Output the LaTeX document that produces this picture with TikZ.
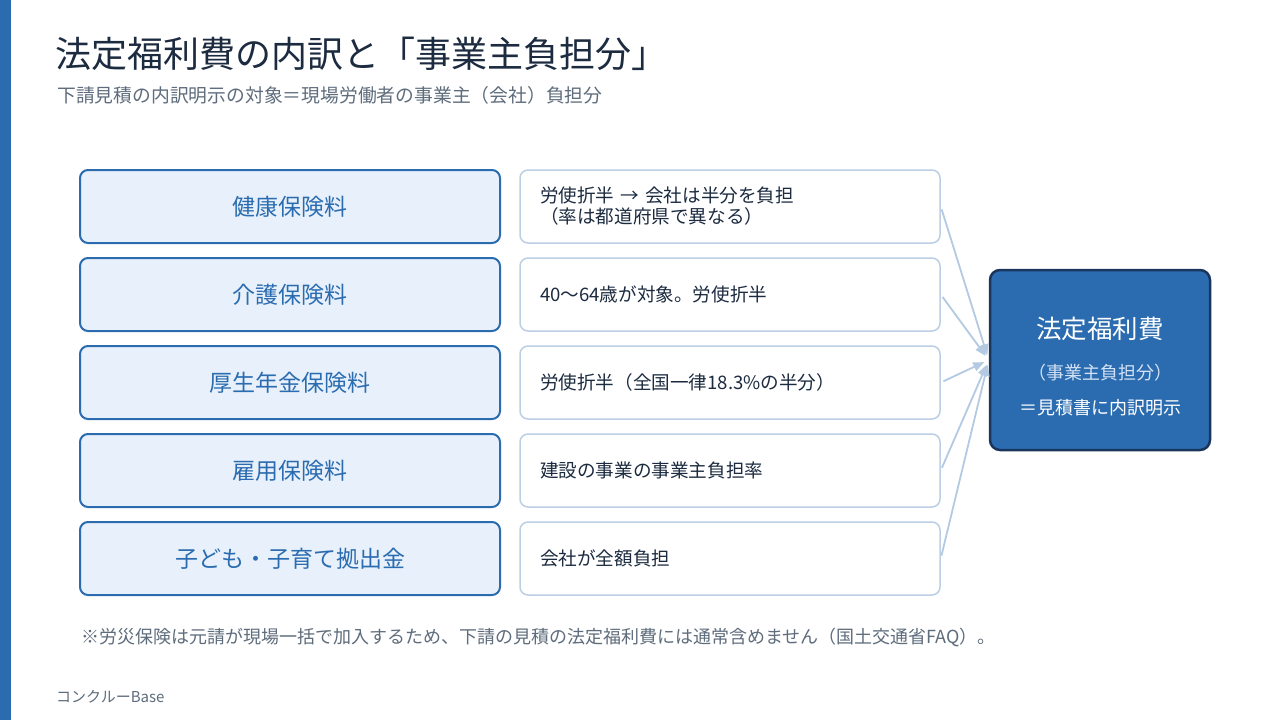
\documentclass[tikz,border=0pt]{standalone}
\usepackage{fontspec}
\setmainfont{Noto Sans CJK JP}
\usetikzlibrary{arrows.meta}

\definecolor{barblue}{HTML}{2B6CB0}
\definecolor{titlenavy}{HTML}{1C2B40}
\definecolor{subgray}{HTML}{5E6C7C}
\definecolor{kindfill}{HTML}{E8F1FB}
\definecolor{noteline}{HTML}{BCCFE4}
\definecolor{arrowblue}{HTML}{B4C9E2}
\definecolor{sumborder}{HTML}{1A365D}
\definecolor{sumlight}{HTML}{D3E2F4}

\tikzset{
  kindbox/.style={draw=barblue, line width=2pt, fill=kindfill, rounded corners=8pt,
    minimum width=420pt, minimum height=73pt, text=barblue,
    font=\fontsize{23}{27}\selectfont},
  notebox/.style={draw=noteline, line width=1.5pt, fill=white, rounded corners=8pt,
    minimum height=73pt, text width=380pt, inner xsep=20pt, align=left,
    text=titlenavy, font=\fontsize{18.6}{21}\selectfont},
  feed/.style={-{Triangle[length=11pt,width=9pt]}, line width=1.8pt, draw=arrowblue,
    shorten <=3pt, shorten >=5pt},
}

\begin{document}
\begin{tikzpicture}[x=1pt, y=-1pt]
    % Page and side bar
    \fill[white] (0,0) rectangle (1280,720);
    \useasboundingbox (0,0) rectangle (1280,720);
    \fill[barblue] (0,0) rectangle (11,720);

    % Headings
    \node[anchor=west, inner sep=0, text=titlenavy, font=\fontsize{36}{42}\selectfont]
        (title) at (55,54) {法定福利費の内訳と「事業主負担分」};
    \node[anchor=west, inner sep=0, text=subgray, font=\fontsize{18.8}{22}\selectfont]
        (sub) at (57,95) {下請見積の内訳明示の対象＝現場労働者の事業主（会社）負担分};

    % Kinds of insurance
    \node[kindbox] (k1) at (290,206.5) {健康保険料};
    \node[kindbox] (k2) at (290,294.5) {介護保険料};
    \node[kindbox] (k3) at (290,382.5) {厚生年金保険料};
    \node[kindbox] (k4) at (290,470.5) {雇用保険料};
    \node[kindbox] (k5) at (290,558.5) {子ども・子育て拠出金};

    % Who pays
    \node[notebox] (d1) at (730,206.5) {労使折半 → 会社は半分を負担\\（率は都道府県で異なる）};
    \node[notebox] (d2) at (730,294.5) {40〜64歳が対象。労使折半};
    \node[notebox] (d3) at (730,382.5) {労使折半（全国一律18.3\%の半分）};
    \node[notebox] (d4) at (730,470.5) {建設の事業の事業主負担率};
    \node[notebox] (d5) at (730,558.5) {会社が全額負担};

    % Total
    \node[draw=sumborder, line width=2.5pt, fill=barblue, rounded corners=10pt,
        minimum width=220pt, minimum height=180pt] (total) at (1100,360) {};
    \node[text=white, font=\fontsize{25.5}{30}\selectfont] (t1) at (1100,329) {法定福利費};
    \node[text=sumlight, font=\fontsize{18}{21}\selectfont] (t2) at (1100,373) {（事業主負担分）};
    \node[text=white, font=\fontsize{18}{21}\selectfont] (t3) at (1100,408) {＝見積書に内訳明示};

    \draw[feed] (d1.east) -- (total.west);
    \draw[feed] (d2.east) -- (total.west);
    \draw[feed] (d3.east) -- (total.west);
    \draw[feed] (d4.east) -- (total.west);
    \draw[feed] (d5.east) -- (total.west);

    % Notes
    \node[anchor=west, inner sep=0, text=subgray, font=\fontsize{18}{21}\selectfont]
        (foot) at (81,637) {※労災保険は元請が現場一括で加入するため、下請の見積の法定福利費には通常含めません（国土交通省FAQ）。};
    \node[anchor=west, inner sep=0, text=subgray, font=\fontsize{15}{18}\selectfont]
        (brand) at (56,697) {コンクルーBase};
\end{tikzpicture}
\end{document}
